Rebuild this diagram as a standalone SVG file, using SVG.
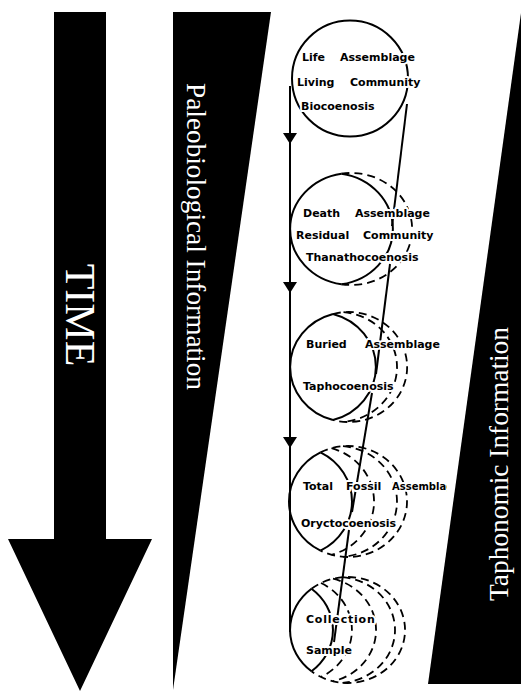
<svg xmlns="http://www.w3.org/2000/svg" width="521" height="691" viewBox="0 0 521 691">
<style>
.bk{fill:#000}
.side{fill:#fff;font-family:"Liberation Serif","Times New Roman",serif}
.sol{fill:none;stroke:#000;stroke-width:2}
.dsh{fill:none;stroke:#000;stroke-width:1.8;stroke-dasharray:8 5}
.ln{fill:none;stroke:#000;stroke-width:2}
.lbl{font-family:"DejaVu Sans",Verdana,sans-serif;font-weight:bold;font-size:11px;fill:#000;stroke:#fff;stroke-width:4;stroke-linejoin:round;paint-order:stroke}
</style>
<defs>
<clipPath id="cut"><rect x="0" y="0" width="447" height="691"/></clipPath>
</defs>
<rect width="521" height="691" fill="#fff"/>

<g id="time-arrow">
<polygon class="bk" points="54,12 106,12 106,539 152,539 80,691 8,539 54,539"/>
<text class="side" font-size="42" text-anchor="middle" transform="translate(66,315) rotate(90)">TIME</text>
</g>

<g id="paleo-wedge">
<polygon class="bk" points="173,12 271,12 173,690"/>
<text class="side" font-size="27" textLength="307" lengthAdjust="spacingAndGlyphs" transform="translate(187,83) rotate(90)">Paleobiological Information</text>
</g>

<g id="taph-wedge">
<polygon class="bk" points="521,13 521,684 428,684"/>
<text class="side" font-size="27" textLength="274" lengthAdjust="spacingAndGlyphs" transform="translate(508,601) rotate(-90)">Taphonomic Information</text>
</g>

<g id="connectors">
<line class="ln" x1="290" y1="86" x2="290" y2="632" stroke-width="2.4"/>
<polygon class="bk" points="283,133 297,133 290,144"/>
<polygon class="bk" points="283,282 297,282 290,293"/>
<polygon class="bk" points="283,437 297,437 290,448"/>
<line class="ln" x1="407" y1="104" x2="392" y2="226"/>
<line class="ln" x1="390" y1="264" x2="376" y2="374"/>
<line class="ln" x1="372" y1="393" x2="352" y2="512"/>
<line class="ln" x1="349" y1="530" x2="334" y2="642"/>
</g>

<g id="life">
<circle class="sol" cx="350" cy="78.5" r="58"/>
<text class="lbl" y="61"><tspan x="302">Life</tspan><tspan x="340">Assemblage</tspan></text>
<text class="lbl" y="86"><tspan x="297">Living</tspan><tspan x="350">Community</tspan></text>
<text class="lbl" x="301" y="110">Biocoenosis</text>
</g>

<g id="death">
<path class="sol" d="M341.5,173.7 A61,56 0 0 0 341.5,284.3"/>
<path class="sol" d="M341.5,173.7 A61,56 0 0 1 341.5,284.3"/>
<path class="dsh" d="M341.5,173.7 A61,56 0 1 1 341.5,284.3"/>
<text class="lbl" y="217"><tspan x="303">Death</tspan><tspan x="355">Assemblage</tspan></text>
<text class="lbl" y="239"><tspan x="296">Residual</tspan><tspan x="363">Community</tspan></text>
<text class="lbl" x="306" y="261">Thanathocoenosis</text>
</g>

<g id="buried">
<path class="sol" d="M333,314 A58.5,55 0 0 0 333,420"/>
<path class="sol" d="M333,314 A58.5,55 0 0 1 333,420"/>
<path class="dsh" d="M333,314 A58.5,55 0 1 1 333,420"/>
<path class="dsh" d="M343.5,312.2 A58.5,55 0 0 1 343.5,421.8"/>
<text class="lbl" y="348"><tspan x="306">Buried</tspan><tspan x="365">Assemblage</tspan></text>
<text class="lbl" x="303" y="390">Taphocoenosis</text>
</g>

<g id="total">
<path class="sol" d="M320.5,452.4 A59,55.5 0 0 0 320.5,550.6"/>
<path class="sol" d="M320.5,452.4 A59,55.5 0 0 1 320.5,550.6"/>
<path class="dsh" d="M320.5,452.4 A59,55.5 0 1 1 320.5,550.6"/>
<path class="dsh" d="M343,446.2 A59,55.5 0 0 1 343,556.8"/>
<path class="dsh" d="M331.5,448.2 A59,55.5 0 0 1 331.5,554.8"/>
<text class="lbl" y="490" clip-path="url(#cut)"><tspan x="303">Total</tspan><tspan x="346">Fossil</tspan><tspan x="392" font-size="10px">Assemblage</tspan></text>
<text class="lbl" x="301" y="527">Oryctocoenosis</text>
</g>

<g id="collection">
<path class="sol" d="M311.5,588.7 A57.5,53 0 0 0 311.5,671.3"/>
<path class="sol" d="M311.5,588.7 A57.5,53 0 0 1 311.5,671.3"/>
<path class="dsh" d="M311.5,588.7 A57.5,53 0 1 1 311.5,671.3"/>
<path class="dsh" d="M342.5,577.2 A57.5,53 0 0 1 342.5,682.8"/>
<path class="dsh" d="M333,578.7 A57.5,53 0 0 1 333,681.3"/>
<path class="dsh" d="M321,583 A57.5,53 0 0 1 321,677"/>
<text class="lbl" x="306" y="623" letter-spacing="0.8">Collection</text>
<text class="lbl" x="306" y="654">Sample</text>
</g>
</svg>
